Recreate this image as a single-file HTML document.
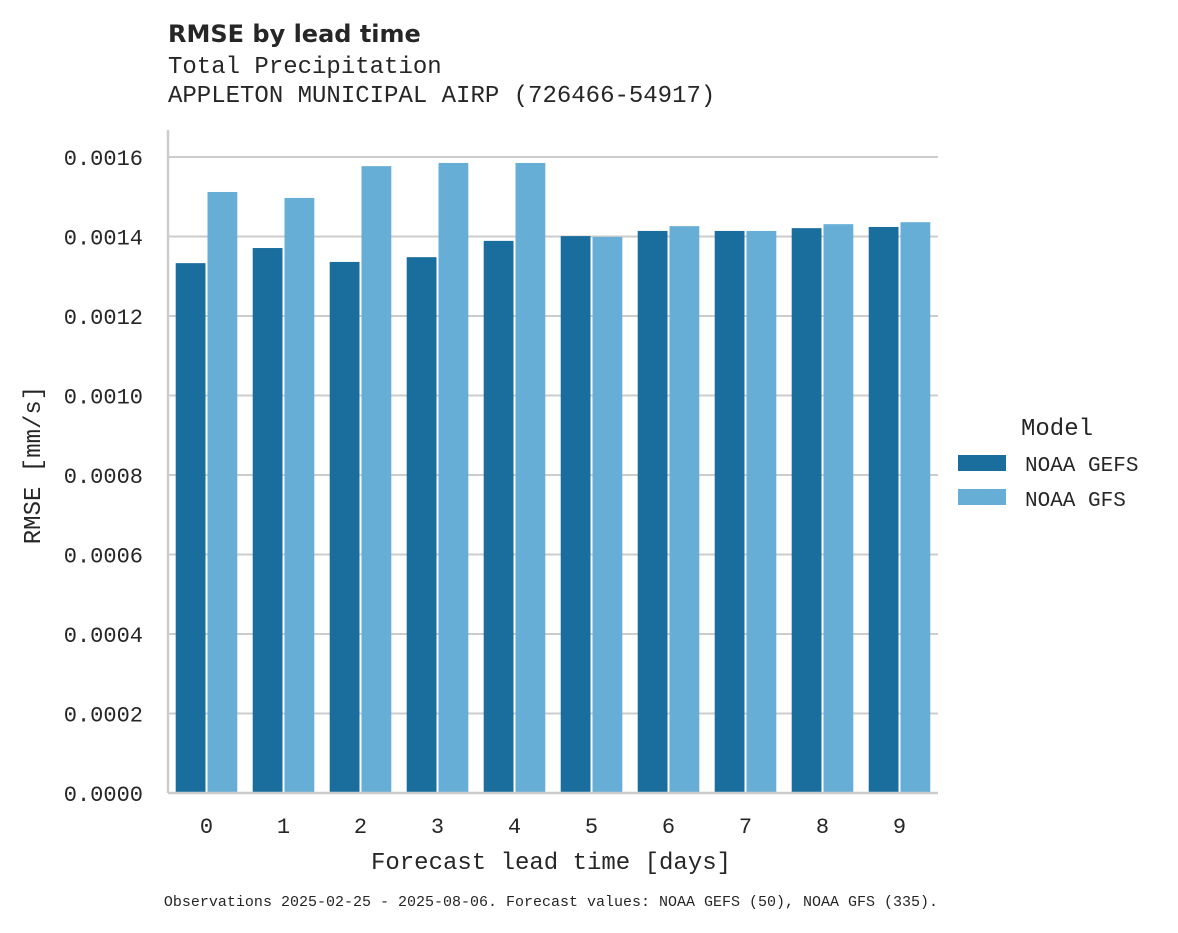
<!DOCTYPE html>
<html><head><meta charset="utf-8"><style>
body{margin:0;background:#fff;}
svg text{font-family:"Liberation Mono","DejaVu Sans Mono",monospace;fill:#262626;}
</style></head><body>
<svg id="chart" width="1178" height="928" xmlns="http://www.w3.org/2000/svg">
<text x="168" y="42" style="font-family:'DejaVu Sans',sans-serif;font-weight:bold;font-size:24px">RMSE by lead time</text>
<text x="168" y="73" font-size="24">Total Precipitation</text>
<text x="168" y="102" font-size="24">APPLETON MUNICIPAL AIRP (726466-54917)</text>
<g id="grid"></g><g id="bars"></g><g id="axes"></g>
<text x="551" y="869" font-size="24" text-anchor="middle">Forecast lead time [days]</text>
<text transform="translate(40,465) rotate(-90)" font-size="24" text-anchor="middle">RMSE [mm/s]</text>
<g>
<text x="1057" y="435" font-size="24" text-anchor="middle">Model</text>
<rect x="958" y="455" width="48" height="16" fill="#1a6e9e"/>
<text x="1025" y="471" font-size="21">NOAA GEFS</text>
<rect x="958" y="489" width="48" height="16" fill="#67aed6"/>
<text x="1025" y="506" font-size="21">NOAA GFS</text>
</g>
<text x="551" y="906" font-size="15" text-anchor="middle">Observations 2025-02-25 - 2025-08-06. Forecast values: NOAA GEFS (50), NOAA GFS (335).</text>
</svg>
<script>
const categories=["0","1","2","3","4","5","6","7","8","9"];
const gefs=[0.001333,0.001371,0.001336,0.001348,0.001389,0.001401,0.001414,0.001414,0.001421,0.001424];
const gfs=[0.001512,0.001497,0.001577,0.001585,0.001585,0.001399,0.001426,0.001414,0.001431,0.001436];
const yTicks=[0,0.0002,0.0004,0.0006,0.0008,0.001,0.0012,0.0014,0.0016];
const yTickLabels=["0.0000","0.0002","0.0004","0.0006","0.0008","0.0010","0.0012","0.0014","0.0016"];
const NS="http://www.w3.org/2000/svg";
const x0=168,x1=938,yBase=793,yTop=157;
const y=v=>yBase-(v/0.0016)*(yBase-yTop);
const bw=(x1-x0)/categories.length;
const xc=i=>x0+bw*(i+0.5);
function mk(t,a){const e=document.createElementNS(NS,t);for(const k in a)e.setAttribute(k,a[k]);return e;}
const grid=document.getElementById('grid'),bars=document.getElementById('bars'),axes=document.getElementById('axes');
yTicks.forEach((v,i)=>{
 const l=mk('line',{x1:x0,x2:x1,y1:y(v),y2:y(v),stroke:'#cccccc','stroke-width':2});
 
 
 grid.appendChild(l);
 const t=mk('text',{x:143,y:y(v)+8,'font-size':22,'text-anchor':'end'});
 t.textContent=yTickLabels[i];
 
 
 axes.appendChild(t);
});
const half=bw*0.8/2;
categories.forEach((c,i)=>{
 const a=mk('rect',{x:xc(i)-half,y:y(gefs[i]),width:half-1,height:yBase-y(gefs[i]),fill:'#1a6e9e'});
 
 
 bars.appendChild(a);
 const b=mk('rect',{x:xc(i)+1,y:y(gfs[i]),width:half-1,height:yBase-y(gfs[i]),fill:'#67aed6'});
 
 
 bars.appendChild(b);
 const t=mk('text',{x:xc(i),y:833,'font-size':22,'text-anchor':'middle'});
 t.textContent=c;
 
 
 axes.appendChild(t);
});
const ax=mk('line',{x1:x0,x2:x1,y1:yBase,y2:yBase,stroke:'#cccccc','stroke-width':2.5});


axes.appendChild(ax);
const ay=mk('line',{x1:x0,x2:x0,y1:130,y2:yBase,stroke:'#cccccc','stroke-width':2.5});


axes.appendChild(ay);
</script>
</body></html>
